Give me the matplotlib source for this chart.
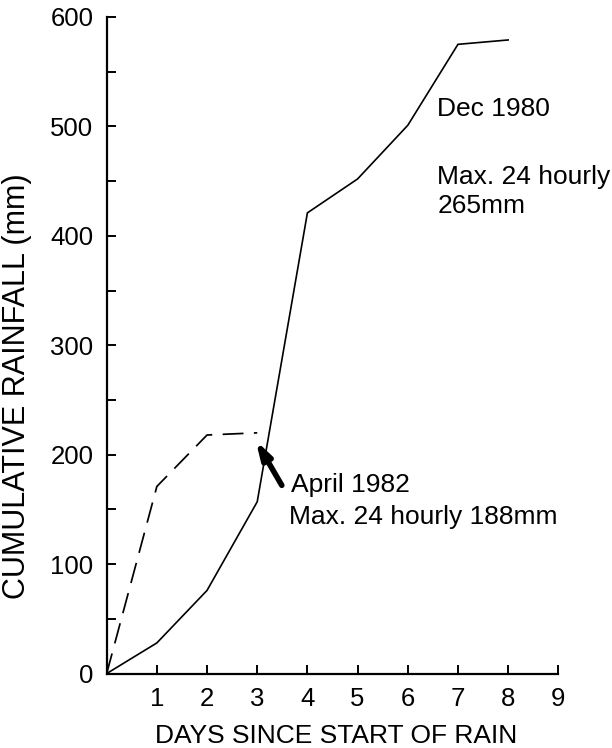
import matplotlib
matplotlib.use('Agg')
import matplotlib.pyplot as plt
from matplotlib.ticker import MultipleLocator

# cumulative rainfall (mm)
days_dec = [0, 1, 2, 3, 4, 5, 6, 7, 8]
rain_dec_1980 = [0, 28, 76, 157, 421, 452, 501, 575, 579]
days_apr = [0, 1, 2, 3]
rain_apr_1982 = [0, 171, 218, 220]

x_ticks = [1, 2, 3, 4, 5, 6, 7, 8, 9]
y_ticks = [0, 100, 200, 300, 400, 500, 600]

FONT = 'Liberation Sans'


def main() -> None:
    plt.rcParams['font.family'] = [FONT, 'DejaVu Sans']
    fig = plt.figure(figsize=(6.12, 7.48), dpi=100)
    ax = fig.add_axes([0.1743, 0.0995, 0.738, 0.8778])

    ax.plot(days_dec, rain_dec_1980, color='black', lw=1.2, solid_joinstyle='miter')
    ax.plot(days_apr, rain_apr_1982, color='black', lw=1.25, dashes=(12, 6))

    ax.set_xlim(0, 9)
    ax.set_ylim(0, 600)
    ax.set_xticks(x_ticks)
    ax.set_yticks(y_ticks)
    ax.yaxis.set_minor_locator(MultipleLocator(50))

    for side in ('top', 'right'):
        ax.spines[side].set_visible(False)
    for side in ('left', 'bottom'):
        ax.spines[side].set_linewidth(1.6)

    ax.tick_params(which='both', direction='in', length=6.5, width=1.4,
                   labelsize=18.5, pad=9.5, colors='black')

    # labels for the two storms
    ax.text(6.59, 516, 'Dec 1980', fontsize=19, va='center', ha='left')
    ax.text(6.59, 454, 'Max. 24 hourly', fontsize=19, va='center', ha='left')
    ax.text(6.59, 427, '265mm', fontsize=19, va='center', ha='left')
    ax.text(3.67, 172, 'April 1982', fontsize=19, va='center', ha='left')
    ax.text(3.64, 143, 'Max. 24 hourly 188mm', fontsize=19, va='center', ha='left')

    ax.annotate('', xy=(2.97, 213), xytext=(3.49, 172),
                arrowprops=dict(arrowstyle='-|>,head_length=1.0,head_width=0.3',
                                lw=4, color='black', shrinkA=0, shrinkB=0))

    fig.text(336 / 612, 1 - 736 / 748, 'DAYS SINCE START OF RAIN',
             fontsize=19, ha='center', va='center')
    fig.text(17 / 612, 1 - 386 / 748, 'CUMULATIVE RAINFALL (mm)',
             fontsize=22, ha='center', va='center', rotation=90)

    fig.savefig('out.png', dpi=100, facecolor='white')


if __name__ == '__main__':
    main()
